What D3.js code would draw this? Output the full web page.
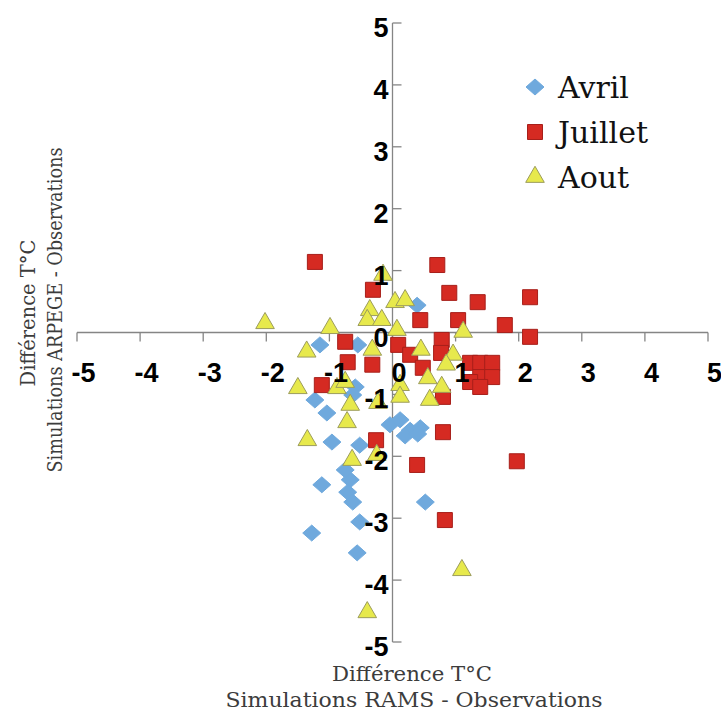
<!DOCTYPE html>
<html>
<head>
<meta charset="utf-8">
<script src="https://cdn.jsdelivr.net/npm/d3@7"></script>
<style>
  body { margin: 0; background: #fff; }
  .tick text { font-family: "Liberation Sans Narrow", "Liberation Sans", Arial, sans-serif; font-weight: bold; font-size: 27px; fill: #000; }
  .title { font-family: "DejaVu Serif", serif; fill: #3c3c3c; }
</style>
</head>
<body>
<div id="chart"></div>
<script>
// Avril (diamonds)
var avril = [
  [0.39, 0.44], [-1.15, -0.20], [-0.55, -0.20], [-0.59, -0.88], [-0.63, -1.01],
  [-1.23, -1.09], [-1.04, -1.30], [-0.96, -1.77], [-0.52, -1.82], [-0.04, -1.49],
  [0.12, -1.41], [0.28, -1.58], [0.44, -1.54], [0.20, -1.67], [0.40, -1.64],
  [-1.12, -2.46], [-0.67, -2.38], [-0.75, -2.22], [-0.71, -2.58], [-0.63, -2.74],
  [0.52, -2.74], [-0.52, -3.06], [-1.28, -3.24], [-0.56, -3.56]
];
// Juillet (squares)
var juillet = [
  [-1.23, 1.14], [0.71, 1.09], [-0.31, 0.69], [0.90, 0.64], [1.35, 0.49],
  [2.18, 0.57], [0.44, 0.20], [1.04, 0.20], [1.78, 0.12], [2.18, -0.07],
  [-0.75, -0.15], [0.09, -0.20], [0.28, -0.36], [0.78, -0.12], [0.77, -0.33],
  [-0.71, -0.48], [-0.32, -0.52], [0.48, -0.57], [1.23, -0.49], [1.39, -0.49],
  [1.58, -0.49], [1.39, -0.72], [1.58, -0.72], [1.23, -0.80], [1.39, -0.88],
  [-1.12, -0.85], [0.80, -1.04], [0.80, -1.61], [-0.26, -1.74], [0.39, -2.14],
  [0.83, -3.03], [1.97, -2.08]
];
// Aout (triangles)
var aout = [
  [-0.15, 0.93], [0.04, 0.49], [0.20, 0.52], [-0.36, 0.36], [-0.40, 0.20],
  [-0.17, 0.20], [-2.02, 0.15], [-0.99, 0.07], [0.07, 0.04], [1.12, 0.01],
  [-1.36, -0.31], [-0.32, -0.28], [0.45, -0.28], [0.96, -0.36], [0.85, -0.52],
  [-1.50, -0.90], [-0.88, -0.90], [-0.75, -0.80], [-0.67, -1.17], [-0.72, -1.45],
  [0.56, -0.74], [0.78, -0.88], [0.12, -0.85], [0.12, -1.04], [-0.23, -1.14],
  [0.59, -1.09], [-1.35, -1.74], [-0.25, -1.98], [-0.64, -2.06], [1.10, -3.84],
  [-0.40, -4.52]
];
var ticks = [-5, -4, -3, -2, -1, 0, 1, 2, 3, 4, 5];
var seriesNames = ["Avril", "Juillet", "Aout"];

var width = 721, height = 713;
var svg = d3.select("#chart").append("svg")
            .attr("width", width)
            .attr("height", height);

var x = d3.scaleLinear().domain([-5, 5]).range([77, 708]);
var y = d3.scaleLinear().domain([-5, 5]).range([642, 23]);

var axisColor = "#858585";
var fmt = d => String(d);

// axis lines and ticks (under the markers)
var grid = svg.append("g");
grid.append("line").attr("x1", x(-5)).attr("x2", x(5)).attr("y1", y(0)).attr("y2", y(0));
grid.append("line").attr("x1", x(0)).attr("x2", x(0)).attr("y1", y(5)).attr("y2", y(-5));
grid.selectAll(".xt").data(ticks).enter().append("line")
    .attr("x1", d => x(d)).attr("x2", d => x(d))
    .attr("y1", y(0)).attr("y2", y(0) + 9);
grid.selectAll(".yt").data(ticks).enter().append("line")
    .attr("x1", x(0)).attr("x2", x(0) + 9)
    .attr("y1", d => y(d)).attr("y2", d => y(d));
grid.selectAll("line").attr("stroke", axisColor).attr("stroke-width", 1.3);

var diamond = "M-9,0L0,-8L9,0L0,8Z";
var square = d3.symbol().type(d3.symbolSquare).size(225)();
var triangle = d3.symbol().type(d3.symbolTriangle).size(150)();

var styles = [
  { data: avril, path: diamond, fill: "#6fa9dd", stroke: "#6fa9dd" },
  { data: juillet, path: square, fill: "#d52a22", stroke: "#a71f1a" },
  { data: aout, path: triangle, fill: "#e7e94c", stroke: "#9c9c5c" }
];

var marks = svg.append("g");
styles.forEach(function(s) {
  marks.selectAll(null)
       .data(s.data)
       .enter()
       .append("path")
         .attr("d", s.path)
         .attr("transform", d => "translate(" + x(d[0]) + "," + y(d[1]) + ")")
         .attr("fill", s.fill)
         .attr("stroke", s.stroke)
         .attr("stroke-width", 1);
});

// tick labels drawn on top of the markers
var xAxis = svg.append("g")
               .attr("transform", "translate(0," + y(0) + ")")
               .call(d3.axisBottom(x).tickValues(ticks).tickSize(9).tickSizeOuter(0).tickPadding(21).tickFormat(fmt));
var yAxis = svg.append("g")
               .attr("transform", "translate(" + x(0) + ",0)")
               .call(d3.axisRight(y).tickValues(ticks).tickSize(9).tickSizeOuter(0).tickFormat(fmt));
xAxis.selectAll(".domain, .tick line").remove();
yAxis.selectAll(".domain, .tick line").remove();
xAxis.selectAll(".tick text").attr("x", 6);
yAxis.selectAll(".tick text").attr("x", -4).attr("dy", "0.5em").attr("text-anchor", "end");

// legend
var legend = svg.append("g").attr("transform", "translate(535,87)");
seriesNames.forEach(function(name, i) {
  var row = legend.append("g").attr("transform", "translate(0," + (i * 45) + ")");
  row.append("path")
     .attr("d", styles[i].path)
     .attr("fill", styles[i].fill)
     .attr("stroke", styles[i].stroke);
  row.append("text")
     .attr("x", 23).attr("y", 11)
     .attr("font-family", "DejaVu Serif, serif")
     .attr("font-size", 30)
     .attr("fill", "#111")
     .text(name);
});

// axis titles
svg.append("text").attr("class", "title")
   .attr("x", 412).attr("y", 681).attr("text-anchor", "middle")
   .attr("font-size", 21).attr("textLength", 160).attr("lengthAdjust", "spacingAndGlyphs")
   .text("Différence T°C");
svg.append("text").attr("class", "title")
   .attr("x", 414).attr("y", 707).attr("text-anchor", "middle")
   .attr("font-size", 21).attr("textLength", 377).attr("lengthAdjust", "spacingAndGlyphs")
   .text("Simulations RAMS - Observations");
svg.append("text").attr("class", "title")
   .attr("transform", "translate(35,313) rotate(-90)").attr("text-anchor", "middle")
   .attr("font-size", 20).attr("textLength", 147).attr("lengthAdjust", "spacingAndGlyphs")
   .text("Différence T°C");
svg.append("text").attr("class", "title")
   .attr("transform", "translate(62,310) rotate(-90)").attr("text-anchor", "middle")
   .attr("font-size", 20).attr("textLength", 325).attr("lengthAdjust", "spacingAndGlyphs")
   .text("Simulations ARPEGE - Observations");
</script>
</body>
</html>
